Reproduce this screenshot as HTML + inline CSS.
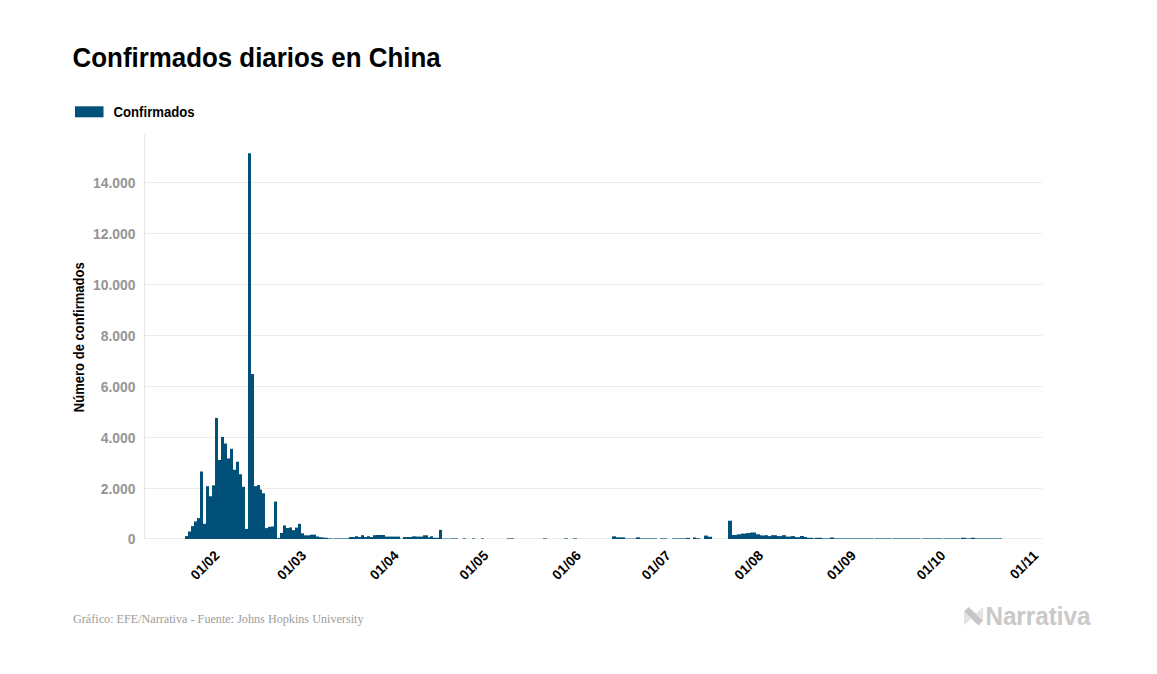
<!DOCTYPE html>
<html><head><meta charset="utf-8"><style>
html,body{margin:0;padding:0;background:#fff;width:1157px;height:674px;overflow:hidden}
svg{display:block}
</style></head><body>
<svg width="1157" height="674" viewBox="0 0 1157 674">
<rect width="1157" height="674" fill="#ffffff"/>
<text x="72.6" y="67.3" font-family="Liberation Sans" font-weight="bold" font-size="27.8" fill="#000" textLength="368" lengthAdjust="spacingAndGlyphs">Confirmados diarios en China</text>
<rect x="75" y="106.3" width="28.5" height="11" fill="#01507a"/>
<text x="113.6" y="116.8" font-family="Liberation Sans" font-weight="bold" font-size="14" fill="#000" textLength="81" lengthAdjust="spacingAndGlyphs">Confirmados</text>
<rect x="145" y="182" width="897" height="1" fill="#ebebeb"/>
<rect x="145" y="233" width="897" height="1" fill="#ebebeb"/>
<rect x="145" y="284" width="897" height="1" fill="#ebebeb"/>
<rect x="145" y="335" width="897" height="1" fill="#ebebeb"/>
<rect x="145" y="386" width="897" height="1" fill="#ebebeb"/>
<rect x="145" y="437" width="897" height="1" fill="#ebebeb"/>
<rect x="145" y="488" width="897" height="1" fill="#ebebeb"/>
<rect x="145" y="538" width="897" height="1" fill="#ebebeb"/>
<rect x="144" y="134" width="1" height="405" fill="#e8e8e8"/>
<g font-family="Liberation Sans" font-weight="bold" font-size="13.9" fill="#949494">
<text x="135.5" y="187.6" text-anchor="end">14.000</text>
<text x="135.5" y="238.6" text-anchor="end">12.000</text>
<text x="135.5" y="289.6" text-anchor="end">10.000</text>
<text x="135.5" y="340.6" text-anchor="end">8.000</text>
<text x="135.5" y="391.6" text-anchor="end">6.000</text>
<text x="135.5" y="442.6" text-anchor="end">4.000</text>
<text x="135.5" y="493.6" text-anchor="end">2.000</text>
<text x="135.5" y="543.6" text-anchor="end">0</text>
</g>
<text transform="translate(83.8,412.2) rotate(-90)" font-family="Liberation Sans" font-weight="bold" font-size="14" fill="#000" textLength="150" lengthAdjust="spacingAndGlyphs">Número de confirmados</text>
<g fill="#01507a">
<rect x="185" y="536.08" width="3" height="2.92"/>
<rect x="188" y="531.45" width="3" height="7.55"/>
<rect x="191" y="526.13" width="3" height="12.87"/>
<rect x="194" y="521.47" width="3" height="17.53"/>
<rect x="197" y="518.09" width="3" height="20.91"/>
<rect x="200" y="471.52" width="3" height="67.48"/>
<rect x="203" y="523.79" width="3" height="15.21"/>
<rect x="206" y="486.23" width="3" height="52.77"/>
<rect x="209" y="496.23" width="3" height="42.77"/>
<rect x="212" y="485.33" width="3" height="53.67"/>
<rect x="215" y="417.89" width="3" height="121.11"/>
<rect x="218" y="459.96" width="3" height="79.04"/>
<rect x="221" y="436.93" width="3" height="102.07"/>
<rect x="224" y="443.50" width="3" height="95.50"/>
<rect x="227" y="458.41" width="3" height="80.59"/>
<rect x="230" y="448.84" width="3" height="90.16"/>
<rect x="233" y="469.68" width="3" height="69.32"/>
<rect x="236" y="461.77" width="3" height="77.23"/>
<rect x="239" y="474.24" width="3" height="64.76"/>
<rect x="242" y="486.79" width="3" height="52.21"/>
<rect x="245" y="529.01" width="3" height="9.99"/>
<rect x="248" y="153.29" width="3" height="385.71"/>
<rect x="251" y="374.02" width="3" height="164.98"/>
<rect x="254" y="486.20" width="3" height="52.80"/>
<rect x="257" y="485.06" width="3" height="53.94"/>
<rect x="260" y="489.61" width="2" height="49.39"/>
<rect x="262" y="493.28" width="3" height="45.72"/>
<rect x="265" y="528.12" width="3" height="10.88"/>
<rect x="268" y="526.84" width="3" height="12.16"/>
<rect x="271" y="526.46" width="3" height="12.54"/>
<rect x="274" y="501.57" width="3" height="37.43"/>
<rect x="277" y="537.97" width="3" height="1.03"/>
<rect x="280" y="532.93" width="3" height="6.07"/>
<rect x="283" y="525.44" width="3" height="13.56"/>
<rect x="286" y="528.01" width="3" height="10.99"/>
<rect x="289" y="527.45" width="3" height="11.55"/>
<rect x="292" y="530.15" width="3" height="8.85"/>
<rect x="295" y="527.61" width="3" height="11.39"/>
<rect x="298" y="523.84" width="3" height="15.16"/>
<rect x="301" y="533.31" width="3" height="5.69"/>
<rect x="304" y="535.32" width="3" height="3.68"/>
<rect x="307" y="535.32" width="3" height="3.68"/>
<rect x="310" y="534.66" width="3" height="4.34"/>
<rect x="313" y="534.61" width="3" height="4.39"/>
<rect x="316" y="536.46" width="3" height="2.54"/>
<rect x="319" y="537.15" width="3" height="1.85"/>
<rect x="322" y="537.56" width="3" height="1.44"/>
<rect x="325" y="537.81" width="3" height="1.19"/>
<rect x="328" y="538.40" width="4" height="0.60"/>
<rect x="332" y="538.75" width="2" height="0.25"/>
<rect x="334" y="538.40" width="15" height="0.60"/>
<rect x="349" y="537.03" width="6" height="1.97"/>
<rect x="355" y="536.20" width="3" height="2.80"/>
<rect x="358" y="537.03" width="3" height="1.97"/>
<rect x="361" y="535.20" width="3" height="3.80"/>
<rect x="364" y="537.03" width="3" height="1.97"/>
<rect x="367" y="536.20" width="3" height="2.80"/>
<rect x="370" y="537.03" width="3" height="1.97"/>
<rect x="373" y="535.20" width="3" height="3.80"/>
<rect x="376" y="535.00" width="9" height="4.00"/>
<rect x="385" y="536.59" width="15" height="2.41"/>
<rect x="400" y="538.75" width="3" height="0.25"/>
<rect x="403" y="537.03" width="9" height="1.97"/>
<rect x="412" y="536.30" width="4" height="2.70"/>
<rect x="416" y="536.59" width="7" height="2.41"/>
<rect x="423" y="535.30" width="5" height="3.70"/>
<rect x="428" y="537.32" width="2" height="1.68"/>
<rect x="430" y="536.30" width="3" height="2.70"/>
<rect x="433" y="537.76" width="6" height="1.24"/>
<rect x="439" y="529.84" width="3" height="9.16"/>
<rect x="442" y="538.60" width="7" height="0.40"/>
<rect x="450" y="538.40" width="8" height="0.60"/>
<rect x="463" y="538.40" width="3" height="0.60"/>
<rect x="472" y="538.40" width="3" height="0.60"/>
<rect x="481" y="538.40" width="3" height="0.60"/>
<rect x="507" y="538.40" width="7" height="0.60"/>
<rect x="543" y="538.40" width="4" height="0.60"/>
<rect x="564" y="538.40" width="4" height="0.60"/>
<rect x="573" y="538.40" width="4" height="0.60"/>
<rect x="612" y="536.30" width="4" height="2.70"/>
<rect x="616" y="537.32" width="9" height="1.68"/>
<rect x="625" y="538.60" width="11" height="0.40"/>
<rect x="636" y="537.32" width="4" height="1.68"/>
<rect x="640" y="538.40" width="17" height="0.60"/>
<rect x="660" y="538.40" width="7" height="0.60"/>
<rect x="672" y="538.40" width="14" height="0.60"/>
<rect x="686" y="537.91" width="4" height="1.09"/>
<rect x="693" y="537.47" width="3" height="1.53"/>
<rect x="696" y="538.20" width="4" height="0.80"/>
<rect x="704" y="535.60" width="4" height="3.40"/>
<rect x="708" y="536.74" width="4" height="2.26"/>
<rect x="728" y="520.70" width="4" height="18.30"/>
<rect x="732" y="535.00" width="5" height="4.00"/>
<rect x="737" y="534.30" width="4" height="4.70"/>
<rect x="741" y="533.60" width="5" height="5.40"/>
<rect x="746" y="533.10" width="4" height="5.90"/>
<rect x="750" y="532.50" width="6" height="6.50"/>
<rect x="756" y="534.30" width="4" height="4.70"/>
<rect x="760" y="535.30" width="3" height="3.70"/>
<rect x="763" y="535.80" width="1" height="3.20"/>
<rect x="764" y="535.20" width="4" height="3.80"/>
<rect x="768" y="536.10" width="3" height="2.90"/>
<rect x="771" y="535.20" width="6" height="3.80"/>
<rect x="777" y="536.10" width="5" height="2.90"/>
<rect x="782" y="535.20" width="4" height="3.80"/>
<rect x="786" y="536.59" width="5" height="2.41"/>
<rect x="791" y="536.10" width="4" height="2.90"/>
<rect x="795" y="537.18" width="5" height="1.82"/>
<rect x="800" y="536.00" width="4" height="3.00"/>
<rect x="804" y="537.03" width="3" height="1.97"/>
<rect x="807" y="537.76" width="6" height="1.24"/>
<rect x="813" y="538.40" width="2" height="0.60"/>
<rect x="815" y="537.76" width="7" height="1.24"/>
<rect x="822" y="538.40" width="8" height="0.60"/>
<rect x="830" y="537.47" width="4" height="1.53"/>
<rect x="834" y="538.40" width="39" height="0.60"/>
<rect x="873" y="538.75" width="2" height="0.25"/>
<rect x="875" y="538.40" width="16" height="0.60"/>
<rect x="891" y="538.75" width="2" height="0.25"/>
<rect x="893" y="538.40" width="27" height="0.60"/>
<rect x="920" y="538.75" width="3" height="0.25"/>
<rect x="923" y="538.40" width="19" height="0.60"/>
<rect x="942" y="538.75" width="2" height="0.25"/>
<rect x="944" y="538.40" width="16" height="0.60"/>
<rect x="960" y="538.75" width="1" height="0.25"/>
<rect x="961" y="537.76" width="5" height="1.24"/>
<rect x="966" y="538.40" width="5" height="0.60"/>
<rect x="971" y="537.76" width="4" height="1.24"/>
<rect x="975" y="538.40" width="27" height="0.60"/>
</g>
<g font-family="Liberation Sans" font-weight="bold" font-size="13.7" fill="#000">
<text transform="translate(220.39,556.4) rotate(-45)" text-anchor="end">01/02</text>
<text transform="translate(307.04,556.4) rotate(-45)" text-anchor="end">01/03</text>
<text transform="translate(399.67,556.4) rotate(-45)" text-anchor="end">01/04</text>
<text transform="translate(489.31,556.4) rotate(-45)" text-anchor="end">01/05</text>
<text transform="translate(581.93,556.4) rotate(-45)" text-anchor="end">01/06</text>
<text transform="translate(671.57,556.4) rotate(-45)" text-anchor="end">01/07</text>
<text transform="translate(764.20,556.4) rotate(-45)" text-anchor="end">01/08</text>
<text transform="translate(856.83,556.4) rotate(-45)" text-anchor="end">01/09</text>
<text transform="translate(946.47,556.4) rotate(-45)" text-anchor="end">01/10</text>
<text transform="translate(1039.10,556.4) rotate(-45)" text-anchor="end">01/11</text>
</g>
<text x="73.0" y="622.9" font-family="Liberation Serif" font-size="12.9" fill="#9c9c9c" textLength="290.5" lengthAdjust="spacingAndGlyphs">Gráfico: EFE/Narrativa - Fuente: Johns Hopkins University</text>
<g>
<polygon points="964,612 964,625.5 971,618.5" fill="#e4e4e4"/>
<polygon points="983.2,607 983.2,620 976,613.5" fill="#e4e4e4"/>
<polygon points="964,611.5 968.5,607 983.2,620.5 978.5,625.5" fill="#c6c6c6"/>
</g>
<text x="985.4" y="625.2" font-family="Liberation Sans" font-weight="bold" font-size="26.5" fill="#c9c9c9" textLength="105" lengthAdjust="spacingAndGlyphs">Narrativa</text>
</svg>
</body></html>
